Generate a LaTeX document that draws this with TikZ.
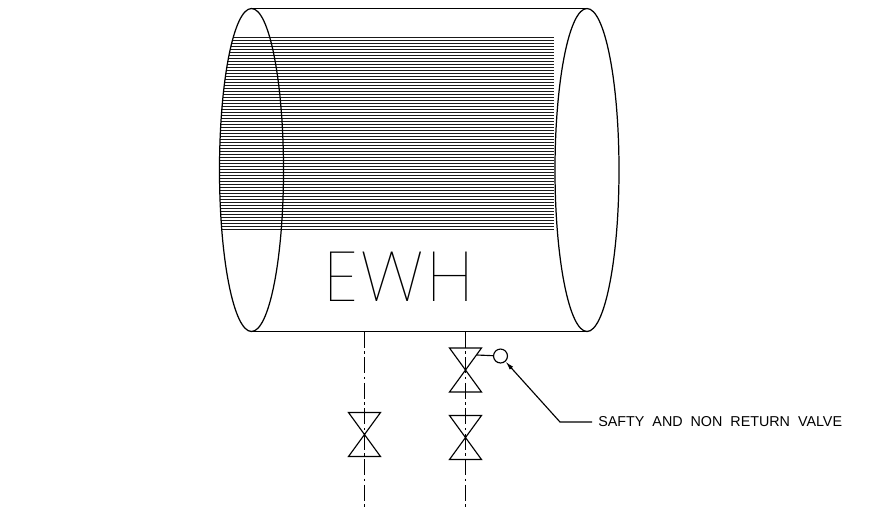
\documentclass[tikz,border=0pt]{standalone}
\usepackage{fontspec}
\setsansfont{Liberation Sans}
\newfontfamily\thinfont[LetterSpace=4]{Poppins Thin}
\usetikzlibrary{arrows.meta}
\tikzset{
  vessel/.style={line width=0.7pt},
  axisline/.style={line width=0.6pt,dash pattern=on 9pt off 2pt on 1.5pt off 2pt},
  valveline/.style={line width=0.65pt},
}
\begin{document}
\begin{tikzpicture}[x=0.02cm,y=-0.02cm]
\useasboundingbox (0,0) rectangle (880,512);

% Hatching
\foreach \hy in {37,40,...,229}{
  \pgfmathsetmacro{\hx}{251.5-32*sqrt(1-((\hy-170)/161.5)^2)}
  \draw[line width=0.5pt,black!90] (\hx,\hy) -- (554,\hy);
}

% Tank
\draw[vessel] (251.5,170) ellipse (32 and 161.5);
\draw[vessel] (587,170) ellipse (32 and 161.5);
\draw[vessel] (251.5,8.5) -- (587,8.5);
\draw[vessel] (251.5,331.5) -- (587,331.5);
\node[font=\thinfont\fontsize{40}{40}\selectfont,inner sep=0pt] (ewh) at (398.5,277) {EWH};

% Pipes
\draw[axisline] (364.5,332) -- (364.5,507);
\draw[axisline] (465.5,332) -- (465.5,507);

% Valves
\foreach \vx/\vy in {364.5/434.5,465.5/370,465.5/437.5}{
  \draw[valveline] (\vx-16,\vy-22) -- (\vx+16,\vy-22) -- (\vx-16,\vy+22) -- (\vx+16,\vy+22) -- cycle;
}

% Relief valve
\node[draw,circle,valveline,minimum size=14pt*0.567,inner sep=0pt] (relief) at (500.5,356) {};
\coordinate (stub) at (477,355);
\draw[valveline] (stub) -- (relief);

% Leader
\node[font=\sffamily\fontsize{8.15}{8.15}\selectfont,anchor=west,inner sep=0pt] (lbl) at (598,422) {SAFTY\ \ AND\ \ NON\ \ RETURN\ \ VALVE};
\coordinate (elbow) at (560,422);
\draw[valveline,-{Latex[length=5pt,width=2.5pt]}] (lbl.west) ++(-6,0) -- (elbow) -- (relief);
\end{tikzpicture}
\end{document}
